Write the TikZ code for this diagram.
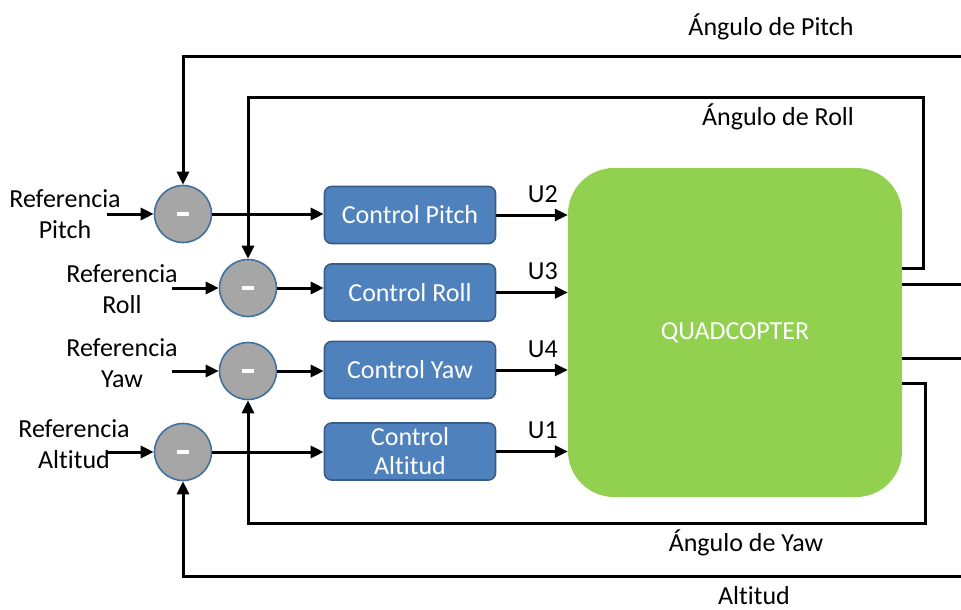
\documentclass[tikz,border=0pt]{standalone}
\usepackage{fontspec}
\setmainfont{Carlito}[Ligatures=NoCommon]
\usetikzlibrary{arrows.meta}

\definecolor{ctrlblue}{HTML}{4F81BD}
\definecolor{ctrledge}{HTML}{385D8A}
\definecolor{sumedge}{HTML}{41719C}
\definecolor{sumgray}{HTML}{A6A6A6}
\definecolor{quadgreen}{HTML}{92D050}

\tikzset{
  sumnode/.style={circle,fill=sumgray,draw=sumedge,line width=1.6pt,minimum size=57pt,inner sep=0pt,text=white},
  ctrlbox/.style={rectangle,rounded corners=7pt,fill=ctrlblue,draw=ctrledge,line width=1.6pt,minimum width=171pt,minimum height=57pt,text=white,align=center,inner sep=2pt},
  arr/.style={line width=3pt,-{Triangle[length=13pt,width=12pt]}},
  wire/.style={line width=3pt},
  lbl/.style={text=black,align=center,inner sep=0pt}
}
\newcommand{\minusbar}{\rule{12pt}{4pt}}

\begin{document}
\begin{tikzpicture}[x=1pt,y=-1pt,font=\fontsize{26}{31}\selectfont]
    \useasboundingbox (0,0) rectangle (961,610);
    % plant
    \node[rectangle,rounded corners=46pt,fill=quadgreen,minimum width=334pt,minimum height=329pt,text=white] (quad) at (735,332.5) {QUADCOPTER};
    % summing junctions
    \node[sumnode] (sP) at (183,214) {\minusbar};
    \node[sumnode] (sR) at (248,288) {\minusbar};
    \node[sumnode] (sY) at (248,371) {\minusbar};
    \node[sumnode] (sA) at (183,452) {\minusbar};
    % controllers
    \node[ctrlbox] (cP) at (410,215) {Control Pitch};
    \node[ctrlbox] (cR) at (410,292.5) {Control Roll};
    \node[ctrlbox] (cY) at (410,370) {Control Yaw};
    \node[ctrlbox] (cA) at (410,451.5) {Control\\[-2pt]Altitud};
    % references
    \node[lbl] (refP) at (65,214) {Referencia\\Pitch};
    \node[lbl] (refR) at (122,289) {Referencia\\Roll};
    \node[lbl] (refY) at (122,363) {Referencia\\Yaw};
    \node[lbl] (refA) at (74,444) {Referencia\\Altitud};
    \coordinate (inP) at (107,214);
    \coordinate (inR) at (172,288);
    \coordinate (inY) at (172,371);
    \coordinate (inA) at (107,452);
    \draw[arr] (inP) -- (sP);
    \draw[arr] (inR) -- (sR);
    \draw[arr] (inY) -- (sY);
    \draw[arr] (inA) -- (sA);
    % errors to controllers
    \draw[arr] (sP.east) -- (sP.east -| cP.west);
    \draw[arr] (sR.east) -- (sR.east -| cR.west);
    \draw[arr] (sY.east) -- (sY.east -| cY.west);
    \draw[arr] (sA.east) -- (sA.east -| cA.west);
    % control signals
    \draw[arr] (cP.east) -- (cP.east -| quad.west) node[lbl,pos=0.65,above=11pt]{U2};
    \draw[arr] (cR.east) -- (cR.east -| quad.west) node[lbl,pos=0.65,above=11pt]{U3};
    \draw[arr] (cY.east) -- (cY.east -| quad.west) node[lbl,pos=0.65,above=11pt]{U4};
    \draw[arr] (cA.east) -- (cA.east -| quad.west) node[lbl,pos=0.65,above=11pt]{U1};
    % feedback
    \coordinate (fbP) at (961,57);
    \coordinate (oR) at (902,268);
    \coordinate (kR) at (923,97);
    \coordinate (oX1) at (902,284);
    \coordinate (eX1) at (961,284);
    \coordinate (oX2) at (902,358);
    \coordinate (eX2) at (961,358);
    \coordinate (oY) at (902,383);
    \coordinate (kY) at (925,523);
    \coordinate (fbA) at (961,576);
    \draw[arr] (fbP) -| (sP);
    \draw[arr] (oR) -| (kR) -| (sR);
    \draw[wire] (oX1) -- (eX1);
    \draw[wire] (oX2) -- (eX2);
    \draw[arr] (oY) -| (kY) -| (sY);
    \draw[arr] (fbA) -| (sA);
    \node[lbl] (angP) at (771,27) {Ángulo de Pitch};
    \node[lbl] (angR) at (778,117) {Ángulo de Roll};
    \node[lbl] (angY) at (746,543) {Ángulo de Yaw};
    \node[lbl] (alt) at (754,596) {Altitud};
  \end{tikzpicture}
\end{document}
